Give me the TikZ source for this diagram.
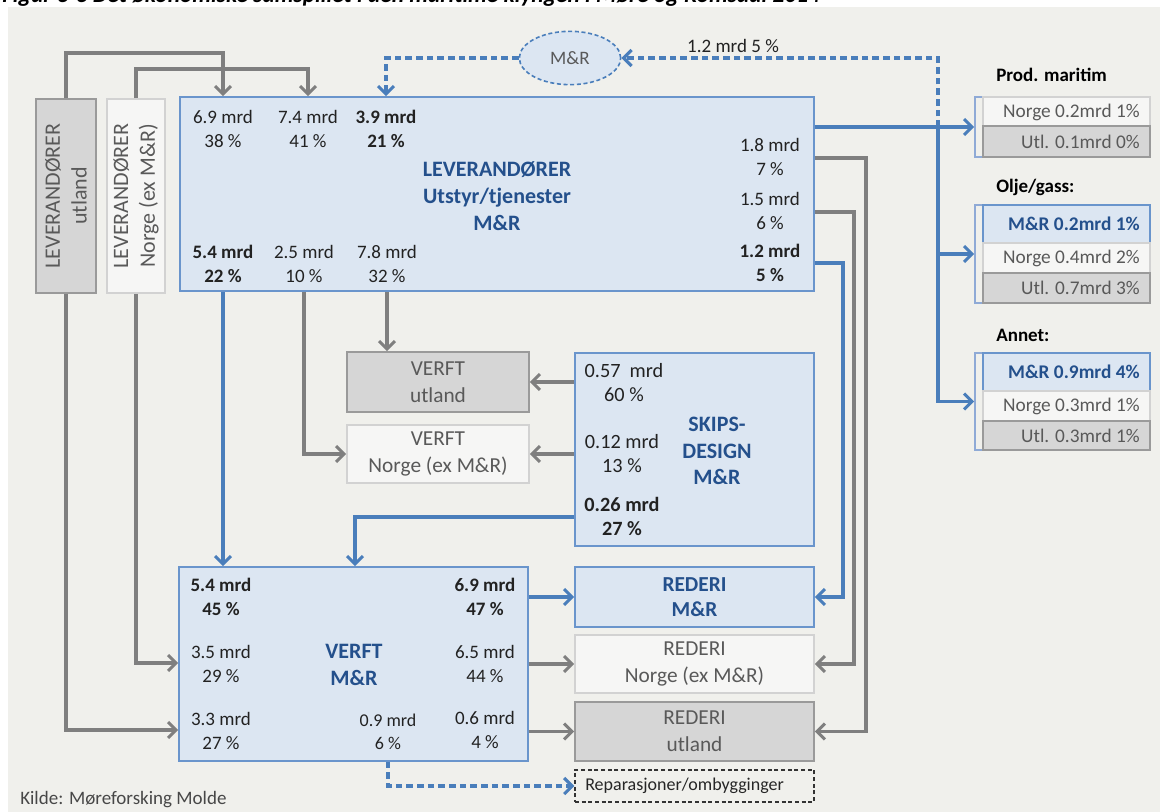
\documentclass[tikz,border=0pt]{standalone}
\usepackage{fontspec}
\setmainfont{Carlito}
\usetikzlibrary{arrows.meta,shapes.geometric,fit}
\definecolor{panel}{HTML}{F0F0EC}
\definecolor{bline}{HTML}{4A7EBB}
\definecolor{gline}{HTML}{7F7F7F}
\definecolor{lblue}{HTML}{DCE6F2}
\definecolor{bbord}{HTML}{6A95CC}
\definecolor{dkfill}{HTML}{D6D6D6}
\definecolor{dkbord}{HTML}{9A9A9A}
\definecolor{ltfill}{HTML}{F6F6F5}
\definecolor{ltbord}{HTML}{D2D2D2}
\definecolor{btxt}{HTML}{24508C}
\definecolor{gtxt}{HTML}{595959}
\definecolor{ktxt}{HTML}{222222}
\definecolor{brk}{HTML}{8FAAD6}
\tikzset{
  mrbox/.style={draw=bbord, fill=lblue, line width=1.2pt, inner sep=0pt},
  dkbox/.style={draw=dkbord, fill=dkfill, line width=1.2pt, inner sep=0pt},
  ltbox/.style={draw=ltbord, fill=ltfill, line width=1.2pt, inner sep=0pt},
  brkbox/.style={draw=brk, fill=panel, line width=1.2pt, inner sep=0pt},
  repbox/.style={draw=black!80, dash pattern=on 3pt off 2pt, line width=1pt, inner sep=0pt},
  val/.style={align=center, inner sep=0pt, text=ktxt, font=\fontsize{14.25}{18}\selectfont},
  sval/.style={align=center, inner sep=0pt, text=ktxt, font=\fontsize{15.2}{18}\selectfont},
  lab/.style={align=center, inner sep=0pt, text=gtxt, font=\fontsize{16}{20}\selectfont},
  blab/.style={align=center, inner sep=0pt, text=btxt, font=\bfseries\fontsize{16.5}{20}\selectfont},
  rtxt/.style={anchor=east, inner sep=0pt, text=gtxt, font=\fontsize{14.5}{17}\selectfont},
  ttl/.style={anchor=west, inner sep=0pt, text=black, font=\bfseries\fontsize{14.25}{17}\selectfont},
  gcon/.style={draw=gline, line width=2.3pt, -{Straight Barb[length=6pt,width=12pt]}},
  bcon/.style={draw=bline, line width=2.3pt, -{Straight Barb[length=6pt,width=12pt]}},
  bdsh/.style={draw=bline, line width=2.3pt, dash pattern=on 5pt off 3pt, -{Straight Barb[length=6pt,width=12pt]}},
}
\begin{document}
\begin{tikzpicture}[x=0.75pt,y=-0.75pt]
\useasboundingbox (0,0) rectangle (1162,812);
\fill[white] (0,0) rectangle (1162,812);
\fill[panel] (8,7) rectangle (1160,812);
\node[anchor=base west, inner sep=0pt, font=\bfseries\itshape\fontsize{17.5}{20}\selectfont] (cap) at (2,3)
  {Figur 3-3 Det økonomiske samspillet i den maritime klyngen i Møre og Romsdal 2014};

% helper y-levels
\coordinate (y53) at (0,53);
\coordinate (y69) at (0,69);
\coordinate (y663) at (0,663);
\coordinate (y730) at (0,730);

% ---- Left vertical supplier boxes
\node[dkbox, fit={(36,99)(96,293)}] (levut) {};
\node[lab, rotate=90, font=\fontsize{16.5}{20}\selectfont] (levutt) at (levut.center) {LEVERANDØRER\\utland};
\node[ltbox, fit={(107,99)(165,293)}] (levno) {};
\node[lab, rotate=90, font=\fontsize{16.5}{20}\selectfont] (levnot) at (levno.center) {LEVERANDØRER\\Norge (ex M\&R)};

% ---- Main supplier box
\node[mrbox, fit={(180,97)(814,291)}] (lev) {};
\node[val] (lev69) at (223,129) {6.9 mrd\\38 \%};
\node[val] (lev74) at (308,129) {7.4 mrd\\41 \%};
\node[val, font=\bfseries\fontsize{14.25}{18}\selectfont] (lev39) at (386,129) {3.9 mrd\\21 \%};
\node[blab] (levt) at (497,196) {LEVERANDØRER\\Utstyr/tjenester\\M\&R};
\node[val] (lev18) at (770,157) {1.8 mrd\\7 \%};
\node[val] (lev15) at (770,211) {1.5 mrd\\6 \%};
\node[val, font=\bfseries\fontsize{14.25}{18}\selectfont] (lev12) at (770,263) {1.2 mrd\\5 \%};
\node[val, font=\bfseries\fontsize{14.25}{18}\selectfont] (lev54) at (223,264) {5.4 mrd\\22 \%};
\node[val] (lev25) at (304,264) {2.5 mrd\\10 \%};
\node[val] (lev78) at (387,264) {7.8 mrd\\32 \%};

% ---- M&R ellipse
\node[ellipse, draw=bline, fill=lblue, line width=1.2pt, dash pattern=on 3pt off 2pt,
      minimum width=76pt, minimum height=40pt, inner sep=0pt, text=gtxt,
      font=\fontsize{14.25}{17}\selectfont] (mr) at (570,58) {M\&R};
\node[val, anchor=base] (mrlab) at (733,53) {1.2 mrd 5 \%};

% ---- Shipyards abroad / Norway
\node[dkbox, fit={(347,352)(529,412)}] (vut) {};
\node[lab] (vutt) at (vut.center) {VERFT\\utland};
\node[ltbox, fit={(347,425)(529,483)}] (vno) {};
\node[lab] (vnot) at (vno.center) {VERFT\\Norge (ex M\&R)};

% ---- Ship design
\node[mrbox, fit={(575,353)(814,546)}] (skips) {};
\node[sval] (sk57) at (624,383) {0.57~~mrd\\60 \%};
\node[sval] (sk12) at (622,454) {0.12 mrd\\13 \%};
\node[sval, font=\bfseries\fontsize{15.2}{18}\selectfont] (sk26) at (622,516) {0.26 mrd\\27 \%};
\node[blab] (skt) at (717,451) {SKIPS-\\DESIGN\\M\&R};

% ---- Shipyard M&R
\node[mrbox, fit={(179,567)(528,761)}] (vmr) {};
\node[val, font=\bfseries\fontsize{14.25}{18}\selectfont] (v54) at (221,597) {5.4 mrd\\45 \%};
\node[val, font=\bfseries\fontsize{14.25}{18}\selectfont] (v69) at (485,597) {6.9 mrd\\47 \%};
\node[val] (v35) at (221,664) {3.5 mrd\\29 \%};
\node[blab] (vmrt) at (354,665) {VERFT\\M\&R};
\node[val] (v65) at (485,664) {6.5 mrd\\44 \%};
\node[val] (v33) at (221,731) {3.3 mrd\\27 \%};
\node[val, font=\fontsize{13.5}{17}\selectfont] (v09) at (388,732) {0.9 mrd\\6 \%};
\node[val] (v06) at (485,730) {0.6 mrd\\4 \%};

% ---- Shipowners
\node[mrbox, fit={(575,567)(814,627)}] (redmr) {};
\node[blab, font=\bfseries\fontsize{16}{19}\selectfont] (redmrt) at (redmr.center) {REDERI\\M\&R};
\node[ltbox, fit={(575,635)(814,693)}] (redno) {};
\node[lab] (rednot) at (redno.center) {REDERI\\Norge (ex M\&R)};
\node[dkbox, fit={(575,702)(814,761)}] (redut) {};
\node[lab] (redutt) at (redut.center) {REDERI\\utland};
\node[repbox, fit={(575,770)(814,802)}] (rep) {};
\node[anchor=west, inner sep=0pt, text=black!85, font=\fontsize{13.5}{16}\selectfont] (rept) at (585,786) {Reparasjoner/ombygginger};

% ---- Right-hand groups
\node[ttl] (prodt) at (996,75) {Prod. maritim};
\node[brkbox, fit={(975,97)(983,157)}] (prodbr) {};
\node[ltbox, fit={(983,97)(1150,126)}] (pr1) {};
\node[rtxt] (pr1t) at (1140,112) {Norge 0.2mrd 1\%};
\node[dkbox, fit={(983,126)(1150,157)}] (pr2) {};
\node[rtxt] (pr2t) at (1140,142) {Utl. 0.1mrd 0\%};

\node[ttl] (olt) at (996,187) {Olje/gass:};
\node[brkbox, fit={(975,205)(983,303)}] (olbr) {};
\node[mrbox, fit={(983,205)(1150,243)}] (ol1) {};
\node[rtxt, text=btxt, font=\bfseries\fontsize{14.5}{17}\selectfont] (ol1t) at (1140,224) {M\&R 0.2mrd 1\%};
\node[ltbox, fit={(983,243)(1150,273)}] (ol2) {};
\node[rtxt] (ol2t) at (1140,258) {Norge 0.4mrd 2\%};
\node[dkbox, fit={(983,273)(1150,303)}] (ol3) {};
\node[rtxt] (ol3t) at (1140,288) {Utl. 0.7mrd 3\%};

\node[ttl] (ant) at (996,335) {Annet:};
\node[brkbox, fit={(975,353)(983,450)}] (anbr) {};
\node[mrbox, fit={(983,353)(1150,391)}] (an1) {};
\node[rtxt, text=btxt, font=\bfseries\fontsize{14.5}{17}\selectfont] (an1t) at (1140,372) {M\&R 0.9mrd 4\%};
\node[ltbox, fit={(983,391)(1150,421)}] (an2) {};
\node[rtxt] (an2t) at (1140,406) {Norge 0.3mrd 1\%};
\node[dkbox, fit={(983,421)(1150,450)}] (an3) {};
\node[rtxt] (an3t) at (1140,436) {Utl. 0.3mrd 1\%};

\node[anchor=west, inner sep=0pt, text=gtxt!80!black, font=\fontsize{14.25}{17}\selectfont] (kilde) at (20,800) {Kilde: Møreforsking Molde};

% ---- Connectors
% top: suppliers -> main box
\draw[gcon] (levut.north) |- (lev69.north |- y53) -- (lev69.north |- lev.north);
\draw[gcon] (levno.north) |- (lev74.north |- y69) -- (lev74.north |- lev.north);
\draw[bdsh] (mr.west) -| (lev39.north |- lev.north);

% right side: to markets
\coordinate (jct) at (938,127);
\draw[bcon] (lev.east |- prodbr.west) -- (prodbr.west);
\draw[bdsh] (jct) |- (mr.east);
\draw[bcon] (jct) |- (anbr.west);
\draw[bcon] (jct |- olbr.west) -- (olbr.west);

% right side: to shipowners
\coordinate (g1) at (866,158);
\coordinate (g2) at (854,212);
\coordinate (g3) at (843,263);
\draw[gcon] (lev.east |- g1) -- (g1) |- (redut.east);
\draw[gcon] (lev.east |- g2) -- (g2) |- (redno.east);
\draw[bcon] (lev.east |- g3) -- (g3) |- (redmr.east);

% bottom of main box
\draw[bcon] (lev54.south |- lev.south) -- (lev54.south |- vmr.north);
\draw[gcon] (lev25.south |- lev.south) |- (vno.west);
\draw[gcon] (lev78.south |- lev.south) -- (lev78.south |- vut.north);

% ship design
\coordinate (d1) at (355,517);
\draw[gcon] (skips.west |- vut.east) -- (vut.east);
\draw[gcon] (skips.west |- vno.east) -- (vno.east);
\draw[bcon] (skips.west |- d1) -- (d1) -- (d1 |- vmr.north);

% left suppliers -> shipyard M&R
\draw[gcon] (levno.south) |- (vmr.west |- y663);
\draw[gcon] (levut.south) |- (vmr.west |- y730);

% shipyard -> shipowners
\draw[bcon] (vmr.east |- redmr.west) -- (redmr.west);
\draw[gcon] (vmr.east |- redno.west) -- (redno.west);
\draw[gcon] (vmr.east |- redut.west) -- (redut.west);
\draw[bdsh] (v09.south |- vmr.south) |- (rep.west);
\end{tikzpicture}
\end{document}
